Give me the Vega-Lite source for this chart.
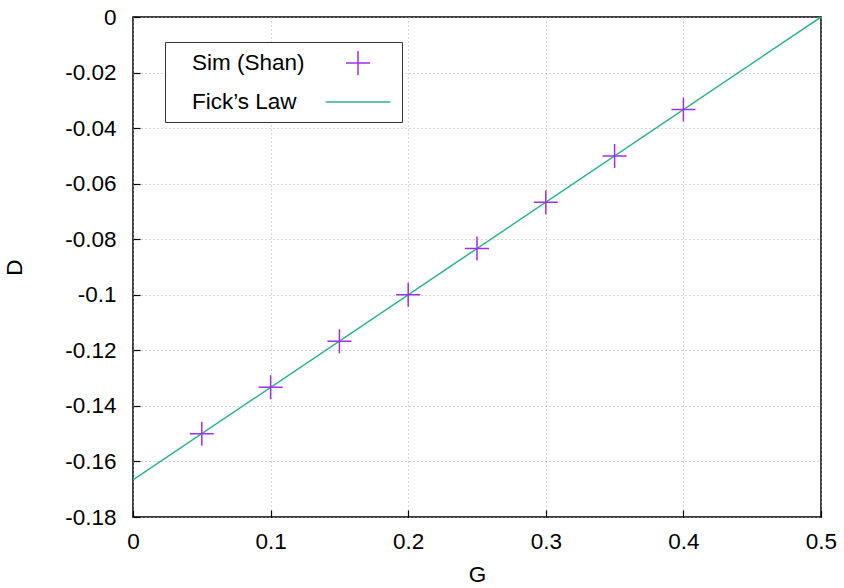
{
  "$schema": "https://vega.github.io/schema/vega-lite/v6.json",
  "width": 688,
  "height": 500,
  "autosize": {"type": "none"},
  "padding": {"left": 133, "top": 17, "right": 23, "bottom": 71},
  "background": "white",
  "config": {
    "font": "Liberation Sans",
    "view": {"stroke": "black", "strokeWidth": 1.5},
    "axis": {
      "labelFont": "Liberation Sans",
      "labelFontSize": 22.5,
      "labelColor": "black",
      "labelFlush": false,
      "titleFont": "Liberation Sans",
      "titleFontSize": 22.5,
      "titleFontWeight": "normal",
      "titleColor": "black",
      "grid": true,
      "gridColor": "#a8a8a8",
      "gridDash": [1, 3],
      "gridWidth": 1,
      "domain": false,
      "ticks": true,
      "tickColor": "black",
      "tickSize": -7,
      "tickWidth": 1.2
    }
  },
  "datasets": {
    "sim": [
      {"G": 0.05, "D": -0.15, "series": "Sim (Shan)"},
      {"G": 0.1, "D": -0.1333, "series": "Sim (Shan)"},
      {"G": 0.15, "D": -0.1167, "series": "Sim (Shan)"},
      {"G": 0.2, "D": -0.1, "series": "Sim (Shan)"},
      {"G": 0.25, "D": -0.0833, "series": "Sim (Shan)"},
      {"G": 0.3, "D": -0.0667, "series": "Sim (Shan)"},
      {"G": 0.35, "D": -0.05, "series": "Sim (Shan)"},
      {"G": 0.4, "D": -0.0333, "series": "Sim (Shan)"}
    ],
    "fick": [
      {"G": 0.0, "D": -0.16667, "series": "Fick’s Law"},
      {"G": 0.5, "D": 0.0, "series": "Fick’s Law"}
    ]
  },
  "layer": [
    {
      "data": {"name": "fick"},
      "mark": {"type": "line", "strokeWidth": 1.5, "clip": true},
      "encoding": {
        "x": {"field": "G", "type": "quantitative", "scale": {"domain": [0, 0.5], "nice": false},
              "axis": {"title": "G", "values": [0, 0.1, 0.2, 0.3, 0.4, 0.5], "labelExpr": "'' + datum.value", "labelPadding": 20, "titlePadding": 11}},
        "y": {"field": "D", "type": "quantitative", "scale": {"domain": [-0.18, 0], "nice": false, "zero": false},
              "axis": {"title": "D", "values": [-0.18, -0.16, -0.14, -0.12, -0.1, -0.08, -0.06, -0.04, -0.02, 0], "labelExpr": "'' + datum.value", "labelPadding": 24, "titlePadding": 38}},
        "color": {"field": "series", "type": "nominal",
                  "scale": {"domain": ["Sim (Shan)", "Fick’s Law"], "range": ["#a030e8", "#2db38a"]},
                  "legend": {
                    "title": null,
                    "orient": "none",
                    "legendX": 32,
                    "legendY": 25,
                    "fillColor": "white",
                    "strokeColor": "#333333",
                    "padding": 8,
                    "labelFont": "Liberation Sans",
                    "labelFontSize": 22.5,
                    "labelColor": "black",
                    "rowPadding": 11,
                    "symbolOffset": 172,
                    "labelOffset": -179,
                    "symbolSize": 576,
                    "symbolStrokeWidth": 1.5,
                    "encode": {
                      "symbols": {
                        "update": {
                          "shape": {"signal": "datum.value === 'Sim (Shan)' ? 'M-1,0H1M0,-1V1' : 'M-2.7,0H2.7'"},
                          "fill": {"value": "transparent"}
                        }
                      }
                    }
                  }}
      }
    },
    {
      "data": {"name": "sim"},
      "mark": {"type": "point", "shape": "M-1,0H1M0,-1V1", "filled": false, "strokeWidth": 1.5, "size": 576, "opacity": 1},
      "encoding": {
        "x": {"field": "G", "type": "quantitative"},
        "y": {"field": "D", "type": "quantitative"},
        "color": {"field": "series", "type": "nominal"}
      }
    }
  ]
}
